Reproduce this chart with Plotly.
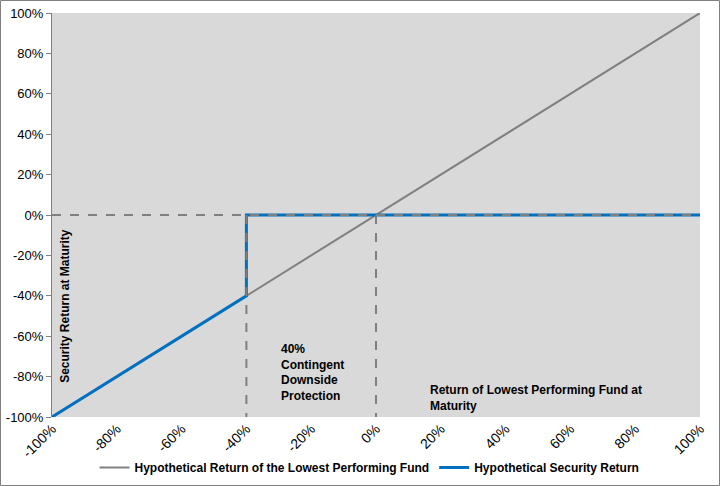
import plotly.graph_objects as go

fund_x = [-100, 100]
fund_y = [-100, 100]
sec_x = [-100, -40, -40, 100]
sec_y = [-100, -40, 0, 0]
tick_vals = [-100, -80, -60, -40, -20, 0, 20, 40, 60, 80, 100]
tick_text = [f"{v}%" for v in tick_vals]

W, H = 720, 486
L, R, T, B = 52, 20, 13, 69
pw, ph = W - L - R, H - T - B

fig = go.Figure()
fig.add_trace(go.Scatter(x=fund_x, y=fund_y, mode="lines",
                         line=dict(color="#808080", width=2),
                         name="Hypothetical Return of the Lowest Performing Fund"))
fig.add_trace(go.Scatter(x=sec_x, y=sec_y, mode="lines",
                         line=dict(color="#0070c0", width=3),
                         name="Hypothetical Security Return"))

dash = dict(color="#808080", width=2, dash="dash")
fig.add_shape(type="line", x0=-100, x1=100, y0=0, y1=0, line=dash)
fig.add_shape(type="line", x0=-40, x1=-40, y0=0, y1=-100, line=dash)
fig.add_shape(type="line", x0=0, x1=0, y0=0, y1=-100, line=dash)

# outer border
fig.add_shape(type="rect", xref="paper", yref="paper",
              x0=(0.5 - L) / pw, x1=(W - 0.5 - L) / pw,
              y0=-(B - 0.5) / ph, y1=(H - B - 0.5) / ph,
              line=dict(color="#808080", width=1), layer="above")

fnt = dict(family="Liberation Sans, Arial", size=12, color="black")
fig.add_annotation(x=-96, y=-45, text="<b>Security Return at Maturity</b>", textangle=-90,
                   showarrow=False, font=fnt, xanchor="center", yanchor="middle")
fig.add_annotation(x=-30, y=-62, text="<b>40%<br>Contingent<br>Downside<br>Protection</b>",
                   showarrow=False, font=fnt, xanchor="left", yanchor="top", align="left")
fig.add_annotation(x=16, y=-82, text="<b>Return of Lowest Performing Fund at<br>Maturity</b>",
                   showarrow=False, font=fnt, xanchor="left", yanchor="top", align="left")

fig.update_layout(
    width=W, height=H,
    margin=dict(l=L, r=R, t=T, b=B, autoexpand=False),
    paper_bgcolor="white", plot_bgcolor="#d9d9d9",
    font=dict(family="Liberation Sans, Arial", size=12, color="black"),
    showlegend=True,
    legend=dict(orientation="h", x=0.49, xanchor="center", y=-0.125, yanchor="middle",
                font=dict(family="Liberation Sans, Arial", size=12, color="black", weight="bold"),
                bgcolor="rgba(0,0,0,0)"),
    xaxis=dict(range=[-100, 100], tickvals=tick_vals, ticktext=tick_text, tickangle=-45,
               showgrid=False, zeroline=False, showline=False, ticks="", automargin=False,
               tickfont=dict(size=14)),
    yaxis=dict(range=[-100, 100], tickvals=tick_vals, ticktext=tick_text, automargin=False,
               showgrid=False, zeroline=False, showline=True, linecolor="#808080",
               linewidth=1, ticks="outside", ticklen=5, tickcolor="#808080",
               tickfont=dict(size=13)),
)

fig.write_html("out.html", config={"displayModeBar": False},
               post_script="document.body.style.margin='0';document.body.style.overflow='hidden';")
